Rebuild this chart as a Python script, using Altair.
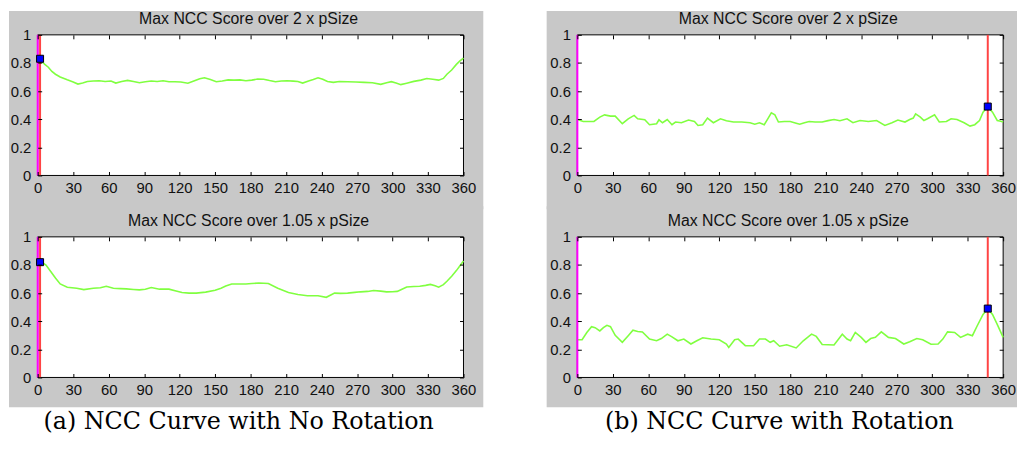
import altair as alt
import pandas as pd

GRAY = "#c8c8c8"
GREEN = "#80ff40"
LABEL = "#111111"

x_ticks = list(range(0, 361, 30))
y_ticks = [0, 0.2, 0.4, 0.6, 0.8, 1]

titles = ["Max NCC Score over 2 x pSize", "Max NCC Score over 1.05 x pSize"]
captions = ["(a) NCC Curve with No Rotation", "(b) NCC Curve with Rotation"]

# (a) no rotation, 2 x pSize
a1_angle = [0, 3, 6, 9, 12, 15, 19, 25, 30, 34, 38, 42, 47, 52, 57, 62, 66, 71, 76, 81,
            86, 91, 96, 101, 106, 111, 116, 121, 127, 132, 137, 141, 146, 151, 156, 161,
            166, 171, 176, 181, 186, 191, 196, 201, 206, 211, 216, 220, 224, 229, 233,
            237, 241, 245, 250, 255, 262, 269, 276, 283, 290, 295, 299, 303, 307, 312,
            318, 324, 329, 334, 339, 343, 346, 350, 354, 357, 360]
a1_score = [0.83, 0.815, 0.79, 0.77, 0.74, 0.72, 0.70, 0.68, 0.665, 0.65, 0.658, 0.668,
            0.672, 0.674, 0.668, 0.672, 0.657, 0.668, 0.676, 0.668, 0.66, 0.666, 0.672,
            0.668, 0.674, 0.667, 0.667, 0.665, 0.656, 0.672, 0.688, 0.695, 0.682, 0.667,
            0.672, 0.68, 0.678, 0.68, 0.674, 0.678, 0.686, 0.684, 0.675, 0.667, 0.672,
            0.674, 0.671, 0.668, 0.657, 0.672, 0.683, 0.695, 0.684, 0.668, 0.662, 0.668,
            0.667, 0.665, 0.662, 0.66, 0.648, 0.66, 0.667, 0.658, 0.646, 0.656, 0.669,
            0.678, 0.69, 0.684, 0.678, 0.69, 0.72, 0.75, 0.79, 0.815, 0.835]

# (a) no rotation, 1.05 x pSize
a2_angle = [0, 3, 7, 11, 15, 19, 25, 33, 39, 47, 53, 58, 64, 70, 75, 81, 86, 91, 96, 103,
            111, 117, 122, 128, 134, 142, 150, 155, 159, 164, 170, 176, 181, 187, 195,
            203, 212, 220, 228, 237, 244, 251, 256, 262, 268, 273, 279, 284, 290, 295,
            300, 304, 308, 312, 318, 323, 328, 332, 336, 339, 343, 346, 350, 354, 357, 360]
a2_score = [0.825, 0.823, 0.80, 0.754, 0.708, 0.665, 0.642, 0.635, 0.625, 0.635, 0.638,
            0.649, 0.635, 0.632, 0.63, 0.626, 0.623, 0.628, 0.64, 0.628, 0.628, 0.615,
            0.604, 0.60, 0.60, 0.607, 0.62, 0.635, 0.65, 0.665, 0.665, 0.665, 0.668,
            0.672, 0.668, 0.635, 0.604, 0.59, 0.581, 0.581, 0.57, 0.60, 0.598, 0.60,
            0.605, 0.609, 0.612, 0.619, 0.614, 0.609, 0.61, 0.612, 0.628, 0.644, 0.647,
            0.649, 0.655, 0.662, 0.652, 0.642, 0.66, 0.684, 0.72, 0.76, 0.795, 0.828]

# (b) rotation, 2 x pSize
b1_angle = [0, 5, 10, 14, 19, 23, 28, 32, 38, 43, 48, 51, 57, 61, 67, 69, 72, 76, 80, 83,
            88, 94, 99, 102, 106, 110, 115, 121, 126, 132, 139, 146, 150, 154, 158, 161,
            164, 167, 170, 175, 180, 185, 188, 192, 196, 201, 207, 212, 217, 222, 228,
            233, 239, 246, 253, 260, 266, 271, 277, 281, 284, 286, 290, 293, 296, 302,
            306, 312, 316, 321, 327, 332, 336, 340, 343, 347, 351, 355, 358, 360]
b1_score = [0.398, 0.384, 0.384, 0.384, 0.415, 0.431, 0.422, 0.422, 0.368, 0.403, 0.427,
            0.403, 0.396, 0.361, 0.368, 0.396, 0.375, 0.398, 0.361, 0.38, 0.375, 0.394,
            0.384, 0.356, 0.361, 0.408, 0.375, 0.403, 0.389, 0.38, 0.38, 0.375, 0.365,
            0.375, 0.361, 0.403, 0.445, 0.431, 0.38, 0.384, 0.384, 0.372, 0.365, 0.375,
            0.384, 0.38, 0.38, 0.39, 0.398, 0.389, 0.403, 0.375, 0.391, 0.384, 0.391,
            0.356, 0.375, 0.394, 0.38, 0.398, 0.408, 0.438, 0.415, 0.391, 0.403, 0.431,
            0.38, 0.384, 0.403, 0.398, 0.375, 0.351, 0.361, 0.391, 0.45, 0.49, 0.45,
            0.391, 0.386, 0.38]

# (b) rotation, 1.05 x pSize
b2_angle = [0, 4, 8, 12, 15, 19, 22, 25, 28, 32, 38, 43, 47, 51, 55, 61, 67, 71, 76, 80,
            85, 90, 96, 101, 106, 113, 120, 126, 128, 133, 136, 142, 149, 154, 159, 163,
            166, 171, 177, 185, 191, 198, 202, 207, 217, 224, 228, 231, 235, 240, 244,
            248, 252, 257, 263, 269, 276, 281, 287, 292, 299, 305, 309, 313, 319, 324,
            330, 334, 338, 343, 347, 351, 355, 360]
b2_score = [0.268, 0.268, 0.32, 0.361, 0.354, 0.331, 0.354, 0.371, 0.361, 0.30, 0.25,
            0.297, 0.336, 0.327, 0.324, 0.273, 0.261, 0.277, 0.308, 0.289, 0.261, 0.273,
            0.238, 0.261, 0.282, 0.273, 0.268, 0.238, 0.214, 0.268, 0.273, 0.226, 0.226,
            0.273, 0.273, 0.25, 0.261, 0.222, 0.233, 0.21, 0.261, 0.308, 0.292, 0.235,
            0.231, 0.308, 0.273, 0.261, 0.32, 0.285, 0.25, 0.277, 0.285, 0.324, 0.285,
            0.277, 0.238, 0.254, 0.277, 0.268, 0.236, 0.238, 0.273, 0.324, 0.32, 0.285,
            0.308, 0.297, 0.366, 0.448, 0.49, 0.448, 0.378, 0.285]

peak_a_angle = 2
peak_a_scores = [0.83, 0.82]
peak_b_angle = 347
peak_b_scores = [0.49, 0.49]

W, H = 430, 142
ROW_GAP = 62      # between the plot boxes of the upper and lower panel
COL_GAP = 115     # between the plot boxes of figure (a) and figure (b)

x_scale = alt.Scale(domain=[0, 360], nice=False, zero=False)
y_scale = alt.Scale(domain=[0, 1], nice=False, zero=False)

common = dict(offset=-4, tickSize=4, tickColor="black", domain=False, grid=False,
              title=None, minExtent=0, maxExtent=200, zindex=2)
x_bottom = alt.Axis(orient="bottom", values=x_ticks, labelPadding=5, labelFontSize=15,
                    labelFont="Liberation Sans", labelColor=LABEL, labelFlush=False,
                    labelOverlap=False, **common)
y_left = alt.Axis(orient="left", values=y_ticks, format="~g", labelPadding=7,
                  labelFontSize=15, labelFont="Liberation Sans", labelColor=LABEL,
                  labelFlush=False, labelOverlap=False, **common)
x_top = alt.Axis(orient="top", values=x_ticks, labels=False, **common)
y_right = alt.Axis(orient="right", values=y_ticks, labels=False, **common)


def panel_rect(x1, x2, y1, y2, fill, **kw):
    return alt.Chart(alt.Data(values=[{}])).mark_rect(fill=fill, **kw).encode(
        x=alt.value(x1), x2=alt.value(x2), y=alt.value(y1), y2=alt.value(y2))


def subplot(angles, scores, peak_x, peak_y, title, pl, pr, pt, pb, cap=None, cap_x=0):
    df = pd.DataFrame({"angle": angles, "score": scores})
    layers = [
        panel_rect(-pl, W + pr, -pt, H + pb, GRAY, strokeWidth=0),
        panel_rect(0, W, 0, H, "white", stroke="black", strokeWidth=1),
        alt.Chart(alt.Data(values=[{"t": title}])).mark_text(
            font="Liberation Sans", fontSize=16, baseline="alphabetic", align="center",
            color=LABEL).encode(x=alt.value(W / 2 - 2), y=alt.value(-11), text="t:N"),
        alt.Chart(df).mark_line(color=GREEN, strokeWidth=1.6).encode(
            x=alt.X("angle:Q", scale=x_scale, axis=x_bottom),
            y=alt.Y("score:Q", scale=y_scale, axis=y_left)),
        alt.Chart(pd.DataFrame({"angle": [0]})).mark_rule(
            color="#ff00ff", strokeWidth=2).encode(
            x=alt.X("angle:Q", scale=x_scale, axis=None)),
        alt.Chart(pd.DataFrame({"angle": [peak_x]})).mark_rule(
            color="#ff4444", strokeWidth=2).encode(
            x=alt.X("angle:Q", scale=x_scale, axis=None)),
        alt.Chart(pd.DataFrame({"angle": [peak_x], "score": [peak_y]})).mark_square(
            size=50, fill="#0000ff", stroke="black", strokeWidth=1, opacity=1).encode(
            x=alt.X("angle:Q", scale=x_scale, axis=x_top),
            y=alt.Y("score:Q", scale=y_scale, axis=y_right)),
    ]
    if cap is not None:
        layers.append(alt.Chart(alt.Data(values=[{"t": cap}])).mark_text(
            font="DejaVu Serif", fontSize=24, baseline="alphabetic", align="center",
            color="black").encode(x=alt.value(cap_x), y=alt.value(H + 52), text="t:N"))
    return alt.layer(*layers).resolve_axis(
        x="independent", y="independent").properties(width=W, height=H)


a_top = subplot(a1_angle, a1_score, peak_a_angle, peak_a_scores[0], titles[0], 29, 20, 24, 34)
b_top = subplot(b1_angle, b1_score, peak_b_angle, peak_b_scores[0], titles[0], 31, 14, 24, 34)
a_bot = subplot(a2_angle, a2_score, peak_a_angle, peak_a_scores[1], titles[1], 29, 20, 31, 30,
                cap=captions[0], cap_x=203)
b_bot = subplot(b2_angle, b2_score, peak_b_angle, peak_b_scores[1], titles[1], 31, 14, 31, 30,
                cap=captions[1], cap_x=204)

chart = alt.concat(a_top, b_top, a_bot, b_bot, columns=2,
                   spacing={"row": ROW_GAP, "column": COL_GAP}, bounds="flush").properties(
    padding=0).configure_view(strokeWidth=0).configure(background="white")

chart.save("out.html", embed_options={"renderer": "svg", "actions": False})
